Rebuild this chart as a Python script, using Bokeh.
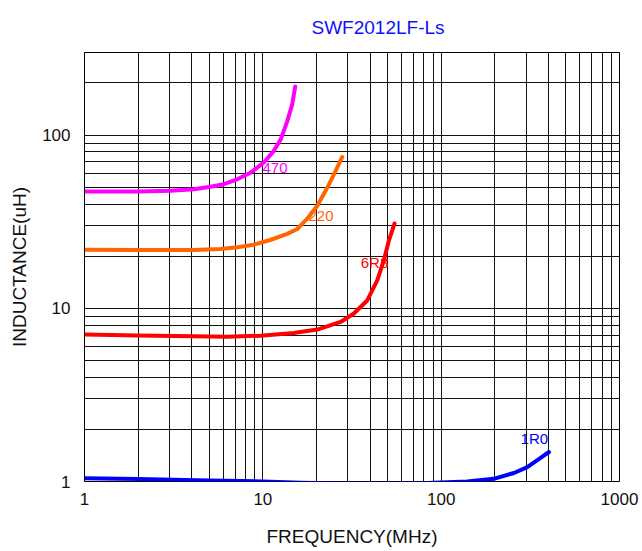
from bokeh.plotting import figure
from bokeh.models import FixedTicker, ColumnDataSource, PrintfTickFormatter
from bokeh.core.properties import value
from bokeh.embed import file_html
from bokeh.resources import INLINE

# ---- data ----
freq_470 = [1, 1.98, 3.04, 4.1, 5.09, 6.04, 7.18, 8.53, 10.1, 11.5, 12.6, 13.7, 14.6, 15.2]
ind_470 = [47.2, 47.2, 47.7, 48.7, 50.3, 52.1, 55.6, 60.7, 69.3, 80.9, 94.5, 120, 150, 191]

freq_220 = [1, 1.98, 4.1, 5.79, 7.18, 8.9, 11.0, 13.7, 15.6, 17.7, 20.2, 23.0, 25.6, 27.9]
ind_220 = [21.8, 21.7, 21.7, 22.0, 22.5, 23.3, 24.8, 26.9, 28.7, 32.8, 39.1, 49.8, 62.1, 74.8]

freq_6r8 = [1, 1.98, 4.1, 6.3, 9.7, 14.9, 20.2, 27.3, 32.4, 38.5, 43.8, 47.7, 50.9, 54.8]
ind_6r8 = [7.06, 6.97, 6.9, 6.85, 6.95, 7.2, 7.54, 8.34, 9.33, 11.1, 14.5, 18.9, 24.6, 30.9]

freq_1r0 = [1, 2, 5, 10, 16.3, 30, 50, 83.6, 140, 197, 256, 304, 361, 402]
ind_1r0 = [1.045, 1.035, 1.015, 1.0, 0.985, 0.975, 0.975, 0.98, 1.0, 1.036, 1.12, 1.21, 1.37, 1.48]

series_names = ["470", "220", "6R8", "1R0"]
series_colors = ["#ff00ff", "#ff6600", "#ff0000", "#0000ff"]
label_freq = [11.7, 21.2, 42.3, 333]
label_ind = [64.6, 33.9, 18.5, 1.77]

x_major = [1, 10, 100, 1000]
y_major = [1, 10, 100]
minor_mult = [2, 3, 4, 5, 6, 7, 8, 9]

FONT = "Liberation Sans"

p = figure(width=640, height=549, x_axis_type="log", y_axis_type="log",
           x_range=(1, 1000), y_range=(1, 300),
           output_backend="svg", toolbar_location=None,
           min_border_left=84, min_border_right=21, min_border_top=52, min_border_bottom=66)

p.title.text = "SWF2012LF-Ls"
p.title.text_color = "#1010ff"
p.title.text_font = FONT
p.title.text_font_size = "19px"
p.title.text_font_style = "normal"
p.title.align = "left"
p.title.offset = 227
p.title.standoff = 29

x_minor = [m * d for d in x_major[:-1] for m in minor_mult]
y_minor = [m * d for d in y_major for m in minor_mult if m * d <= 300]
p.xaxis.ticker = FixedTicker(ticks=x_major, minor_ticks=x_minor)
p.yaxis.ticker = FixedTicker(ticks=y_major, minor_ticks=y_minor)
p.xaxis.formatter = PrintfTickFormatter(format="%d")
p.yaxis.formatter = PrintfTickFormatter(format="%d")

for ax in (p.xaxis, p.yaxis):
    ax.major_tick_line_color = None
    ax.minor_tick_line_color = None
    ax.major_label_text_font = FONT
    ax.major_label_text_font_size = "17px"
    ax.major_label_text_color = "#111111"
    ax.axis_label_text_font = FONT
    ax.axis_label_text_font_size = "19px"
    ax.axis_label_text_font_style = "normal"
    ax.axis_label_text_color = "#111111"

p.xaxis.axis_line_color = None
p.yaxis.axis_line_color = "black"
p.xaxis.axis_label = "FREQUENCY(MHz)"
p.yaxis.axis_label = "INDUCTANCE(uH)"
p.xaxis.major_label_standoff = 5
p.xaxis.axis_label_standoff = 18
p.yaxis.major_label_standoff = 8
p.yaxis.axis_label_standoff = 9

for g in (p.xgrid, p.ygrid):
    g.grid_line_color = "#111111"
    g.grid_line_width = 1
    g.minor_grid_line_color = "#111111"
    g.minor_grid_line_width = 1

p.outline_line_color = "black"
p.outline_line_width = 1
p.background_fill_color = "white"
p.border_fill_color = "white"

freqs = [freq_470, freq_220, freq_6r8, freq_1r0]
inds = [ind_470, ind_220, ind_6r8, ind_1r0]
for f, l, c in zip(freqs, inds, series_colors):
    p.line(f, l, line_color=c, line_width=4, line_cap="round", line_join="round")

src = ColumnDataSource(dict(x=label_freq, y=label_ind, t=series_names, c=series_colors))
p.text(x="x", y="y", text="t", text_color="c", source=src,
       text_font=value(FONT), text_font_size="15px",
       text_align="center", text_baseline="middle")

open("out.html", "w").write(file_html(p, INLINE))
